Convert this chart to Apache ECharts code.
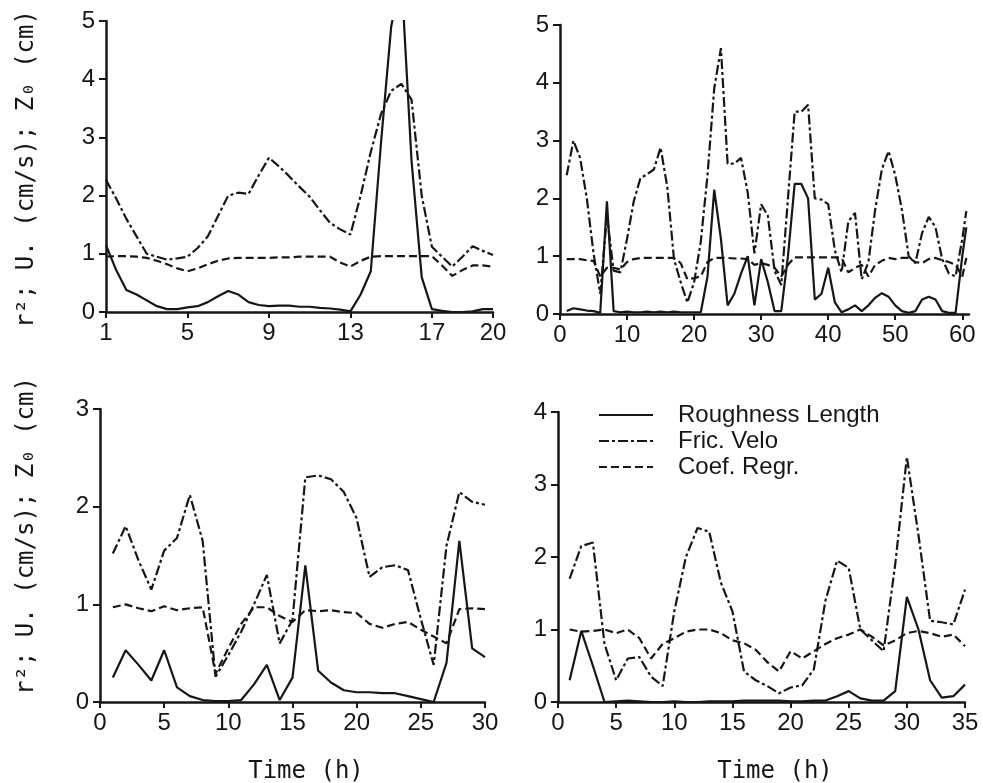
<!DOCTYPE html>
<html lang="en">
<head>
<meta charset="UTF-8">
<title>Roughness length, friction velocity, regression coefficient</title>
<script src="https://cdn.jsdelivr.net/npm/echarts@6/dist/echarts.min.js"></script>
<style>html,body{margin:0;padding:0;background:#fff;}</style>
</head>
<body>

<div id="main" style="width:983px;height:783px;"></div>

<script type="text/javascript">
    // series names
    var names = ['Roughness Length', 'Fric. Velo', 'Coef. Regr.'];

    // panel 1 (top left), time 1..20 h
    var p1Time = [1,1.5,2,2.5,3,3.5,4,4.5,5,5.5,6,6.5,7,7.5,8,8.5,9,9.5,10,10.5,11,11.5,12,12.5,13,13.5,14,14.5,15,15.5,16,16.5,17,17.5,18,18.5,19,19.5,20];
    var p1Rough = [1.15,0.72,0.38,0.3,0.2,0.1,0.05,0.05,0.08,0.1,0.17,0.27,0.36,0.3,0.17,0.12,0.1,0.11,0.11,0.09,0.09,0.07,0.06,0.04,0.01,0.3,0.7,2.9,4.9,5.8,2.6,0.6,0.05,0.02,0,0,0.01,0.05,0.05];
    var p1Fric = [2.27,1.95,1.6,1.3,1.0,0.95,0.9,0.92,0.95,1.1,1.3,1.65,2.0,2.05,2.03,2.35,2.65,2.5,2.33,2.15,1.98,1.75,1.53,1.42,1.33,2.0,2.75,3.4,3.8,3.92,3.65,2.0,1.12,0.95,0.78,0.95,1.13,1.05,0.98];
    var p1Coef = [0.95,0.96,0.96,0.95,0.93,0.88,0.82,0.75,0.7,0.75,0.82,0.88,0.92,0.93,0.93,0.93,0.93,0.94,0.94,0.95,0.95,0.95,0.95,0.85,0.78,0.88,0.95,0.96,0.96,0.96,0.96,0.96,0.96,0.8,0.62,0.72,0.8,0.8,0.78];
    var p1Ticks = [1, 5, 9, 13, 17, 20];

    // panel 2 (top right), time 1..60 h
    var p2Time = [1,2,3,4,5,6,7,8,9,10,11,12,13,14,15,16,17,18,19,20,21,22,23,24,25,26,27,28,29,30,31,32,33,34,35,36,37,38,39,40,41,42,43,44,45,46,47,48,49,50,51,52,53,54,55,56,57,58,59,60,60.6];
    var p2Rough = [0.05,0.1,0.08,0.06,0.05,0.02,1.95,0.05,0.03,0.04,0.03,0.03,0.04,0.03,0.04,0.03,0.04,0.03,0.03,0.03,0.03,0.65,2.15,1.3,0.15,0.35,0.7,1.0,0.15,0.95,0.55,0.05,0.05,1.0,2.25,2.25,2.0,0.25,0.35,0.8,0.2,0.03,0.08,0.15,0.05,0.15,0.28,0.36,0.3,0.15,0.05,0.02,0.05,0.25,0.3,0.25,0.05,0.02,0.02,1.0,1.5];
    var p2Fric = [2.4,3.0,2.7,2.0,1.05,0.35,1.7,0.75,0.72,1.3,1.95,2.35,2.42,2.5,2.88,2.2,0.95,0.55,0.2,0.55,1.25,2.4,3.9,4.6,2.6,2.6,2.7,2.1,1.05,1.9,1.7,0.75,0.5,2.0,3.5,3.5,3.62,2.0,1.98,1.9,1.1,0.72,1.6,1.75,0.6,0.9,1.8,2.5,2.82,2.4,1.8,1.0,0.88,1.4,1.68,1.5,0.95,0.7,0.65,1.3,1.78];
    var p2Coef = [0.95,0.95,0.95,0.93,0.92,0.65,0.8,0.8,0.77,0.9,0.95,0.97,0.97,0.97,0.97,0.97,0.97,0.88,0.6,0.62,0.65,0.9,0.97,0.97,0.97,0.96,0.96,0.95,0.85,0.88,0.85,0.8,0.65,0.85,0.98,0.98,0.98,0.98,0.98,0.98,0.98,0.97,0.72,0.8,0.85,0.65,0.85,0.92,0.97,0.95,0.97,0.97,0.9,0.88,0.95,0.97,0.93,0.9,0.85,0.65,0.97];
    var p2Ticks = [0, 10, 20, 30, 40, 50, 60];

    // panel 3 (bottom left), time 1..30 h
    var p3Time = [1,2,3,4,5,6,7,8,9,10,11,12,13,14,15,16,17,18,19,20,21,22,23,24,25,26,27,28,29,30];
    var p3Rough = [0.25,0.53,0.38,0.22,0.53,0.15,0.06,0.02,0.01,0.01,0.02,0.18,0.38,0.02,0.25,1.4,0.32,0.2,0.12,0.1,0.1,0.09,0.09,0.06,0.03,0,0.4,1.65,0.55,0.46];
    var p3Fric = [1.52,1.8,1.45,1.15,1.55,1.68,2.12,1.65,0.26,0.48,0.72,1.0,1.3,0.6,0.84,2.3,2.32,2.28,2.15,1.88,1.28,1.38,1.4,1.35,0.85,0.38,1.6,2.15,2.05,2.02];
    var p3Coef = [0.97,1.0,0.96,0.93,0.98,0.94,0.96,0.97,0.29,0.55,0.8,0.97,0.97,0.88,0.82,0.94,0.93,0.94,0.92,0.91,0.8,0.76,0.8,0.82,0.74,0.67,0.6,0.95,0.96,0.95];
    var p3Ticks = [0, 5, 10, 15, 20, 25, 30];

    // panel 4 (bottom right), time 1..35 h
    var p4Time = [1,2,3,4,5,6,7,8,9,10,11,12,13,14,15,16,17,18,19,20,21,22,23,24,25,26,27,28,29,30,31,32,33,34,35];
    var p4Rough = [0.3,0.98,0.5,0,0.01,0.02,0.01,0,0,0.01,0,0,0.01,0.01,0.01,0.02,0.02,0.02,0.02,0.01,0.01,0.02,0.02,0.08,0.15,0.05,0.02,0.02,0.15,1.45,1.0,0.3,0.06,0.08,0.24];
    var p4Fric = [1.7,2.15,2.2,0.8,0.3,0.6,0.62,0.35,0.22,1.25,2.0,2.4,2.35,1.65,1.25,0.42,0.3,0.22,0.12,0.2,0.23,0.45,1.4,1.95,1.85,1.0,0.85,0.7,1.9,3.38,2.3,1.12,1.1,1.07,1.55];
    var p4Coef = [1.0,0.97,0.98,1.0,0.95,1.0,0.88,0.6,0.8,0.88,0.97,1.0,1.0,0.95,0.85,0.81,0.72,0.55,0.42,0.7,0.6,0.7,0.8,0.88,0.93,1.0,0.9,0.78,0.85,0.95,0.98,0.95,0.9,0.93,0.77];
    var p4Ticks = [0, 5, 10, 15, 20, 25, 30, 35];

    var ink = '#161616';
    var dashFric = [10, 3, 3, 3];
    var dashCoef = [8, 4];
    var tickFont = 'Liberation Sans';
    var monoFont = '"DejaVu Sans Mono", monospace';
    var yTitle = 'r\u00b2; U. (cm/s); Z\u2080 (cm)';

    function line(name, g, t, v, dash) {
        return {
            name: name,
            type: 'line',
            xAxisIndex: g,
            yAxisIndex: g,
            data: t.map(function (x, i) { return [x, v[i]]; }),
            symbol: 'none',
            clip: true,
            lineStyle: { color: ink, width: 2.2, type: dash },
            itemStyle: { color: ink }
        };
    }

    function xAxis(g, min, max, ticks) {
        return {
            type: 'value', gridIndex: g, min: min, max: max,
            axisLine: { onZero: false, lineStyle: { color: ink, width: 2.5 } },
            axisTick: { customValues: ticks, length: 6, lineStyle: { color: ink, width: 2 } },
            axisLabel: { customValues: ticks, margin: 9, color: ink, fontSize: 24, fontFamily: tickFont },
            splitLine: { show: false }
        };
    }

    function yAxis(g, max) {
        return {
            type: 'value', gridIndex: g, min: 0, max: max, interval: 1,
            axisLine: { show: true, onZero: false, lineStyle: { color: ink, width: 2.5 } },
            axisTick: { show: true, length: 7, lineStyle: { color: ink, width: 2 } },
            axisLabel: { margin: 11, color: ink, fontSize: 24, fontFamily: tickFont },
            splitLine: { show: false }
        };
    }

    function label(text, x, y, rot) {
        return { type: 'text', x: x, y: y, rotation: rot,
                 style: { text: text, font: '24px ' + monoFont, fill: ink, align: 'center', verticalAlign: 'middle' } };
    }

    var myChart = echarts.init(document.getElementById('main'));

    var option = {
        animation: false,
        backgroundColor: '#ffffff',
        grid: [
            { left: 106, top: 21, width: 387, height: 291, outerBoundsMode: 'none' },
            { left: 560, top: 25, width: 409, height: 289, outerBoundsMode: 'none' },
            { left: 100, top: 409, width: 385, height: 293, outerBoundsMode: 'none' },
            { left: 558, top: 412, width: 407, height: 290, outerBoundsMode: 'none' }
        ],
        xAxis: [
            xAxis(0, 1, 20, p1Ticks),
            xAxis(1, 0, 61, p2Ticks),
            xAxis(2, 0, 30, p3Ticks),
            xAxis(3, 0, 35, p4Ticks)
        ],
        yAxis: [yAxis(0, 5), yAxis(1, 5), yAxis(2, 3), yAxis(3, 4)],
        legend: {
            data: names,
            orient: 'vertical',
            left: 593,
            top: 398,
            itemWidth: 54,
            itemHeight: 14,
            itemGap: 2,
            selectedMode: false,
            itemStyle: { opacity: 0 },
            textStyle: { fontSize: 24, lineHeight: 24, color: ink, fontFamily: tickFont, padding: [0, 0, 0, 20] }
        },
        graphic: [
            label(yTitle, 27, 169, Math.PI / 2),
            label(yTitle, 27, 536, Math.PI / 2),
            label('Time (h)', 306, 772, 0),
            label('Time (h)', 775, 772, 0)
        ],
        series: [
            line(names[0], 0, p1Time, p1Rough, 'solid'),
            line(names[1], 0, p1Time, p1Fric, dashFric),
            line(names[2], 0, p1Time, p1Coef, dashCoef),
            line(names[0], 1, p2Time, p2Rough, 'solid'),
            line(names[1], 1, p2Time, p2Fric, dashFric),
            line(names[2], 1, p2Time, p2Coef, dashCoef),
            line(names[0], 2, p3Time, p3Rough, 'solid'),
            line(names[1], 2, p3Time, p3Fric, dashFric),
            line(names[2], 2, p3Time, p3Coef, dashCoef),
            line(names[0], 3, p4Time, p4Rough, 'solid'),
            line(names[1], 3, p4Time, p4Fric, dashFric),
            line(names[2], 3, p4Time, p4Coef, dashCoef)
        ]
    };

    myChart.setOption(option);
</script>
</body>
</html>
